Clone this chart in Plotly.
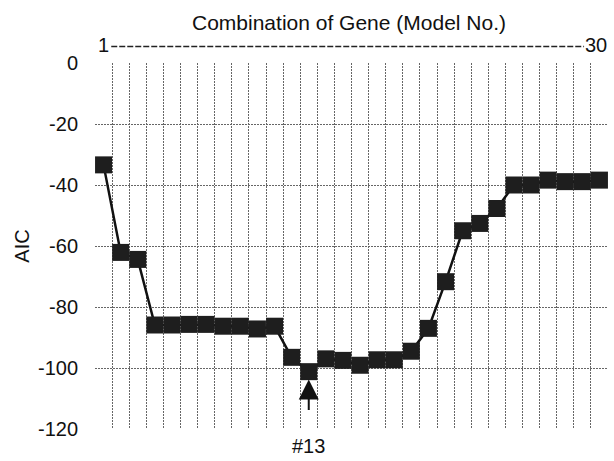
import plotly.graph_objects as go

model_no = list(range(1, 31))
aic = [-33.4, -62.1, -64.4, -85.9, -85.9, -85.7, -85.7, -86.3, -86.3, -87.2,
       -86.3, -96.5, -101.2, -97.0, -97.5, -99.1, -97.3, -97.3, -94.5, -87.0,
       -71.7, -55.0, -52.6, -47.7, -40.0, -40.0, -38.4, -38.9, -38.9, -38.4]
y_ticks = [0, -20, -40, -60, -80, -100, -120]
best_model = 13

FONT = "Liberation Sans, Arial, sans-serif"
FS = 20
TXT = "#111111"

fig = go.Figure()
fig.add_trace(go.Scatter(
    x=model_no, y=aic, mode="lines+markers",
    line=dict(color="#111111", width=2.5),
    marker=dict(symbol="square", size=17, color="#1e1e1e"),
    showlegend=False,
))

grid = dict(showgrid=True, gridcolor="#666666", griddash="2px,1px", gridwidth=1)

fig.update_xaxes(
    range=[0.5, 30.5],
    tickvals=[i + 0.5 for i in range(0, 31)],
    showticklabels=False, ticks="", zeroline=False, showline=False,
    **grid,
)
fig.update_yaxes(
    range=[-120, 0],
    tickvals=y_ticks, ticktext=[str(v) for v in y_ticks],
    tickfont=dict(family=FONT, size=FS, color=TXT),
    ticklabelstandoff=16, ticks="",
    zeroline=False, showline=False,
    title=dict(text="AIC", font=dict(family=FONT, size=FS, color=TXT), standoff=2),
    **grid,
)

annotations = [
    dict(text="Combination of Gene (Model No.)", xref="paper", yref="paper",
         x=0.495, y=1.0, yshift=41, yanchor="middle", showarrow=False,
         font=dict(family=FONT, size=21, color=TXT)),
    dict(text=str(model_no[0]), xref="x", yref="paper", x=model_no[0], y=1.0,
         yshift=18, yanchor="middle", showarrow=False,
         font=dict(family=FONT, size=FS, color=TXT)),
    dict(text=str(model_no[-1]), xref="x", yref="paper", x=model_no[-1] - 0.2, y=1.0,
         yshift=18, yanchor="middle", showarrow=False,
         font=dict(family=FONT, size=FS, color=TXT)),
    dict(text="", xref="x", yref="y", x=best_model, y=-103.8,
         ax=0, ay=32, axref="pixel", ayref="pixel", showarrow=True,
         arrowhead=2, arrowsize=2, arrowwidth=2, arrowcolor="#111111"),
    dict(text="#" + str(best_model), xref="x", yref="paper", x=best_model, y=0,
         yshift=-17, yanchor="middle", showarrow=False,
         font=dict(family=FONT, size=FS, color=TXT)),
]

fig.update_layout(
    width=614, height=461,
    margin=dict(l=95, r=6, t=63, b=32),
    paper_bgcolor="white", plot_bgcolor="white",
    annotations=annotations,
    shapes=[dict(type="line", xref="x", yref="paper", x0=1.45, x1=29.1,
                 y0=1.045, y1=1.045,
                 line=dict(color="#222222", width=1.5, dash="6px,2px"))],
)

fig.write_html("out.html")
